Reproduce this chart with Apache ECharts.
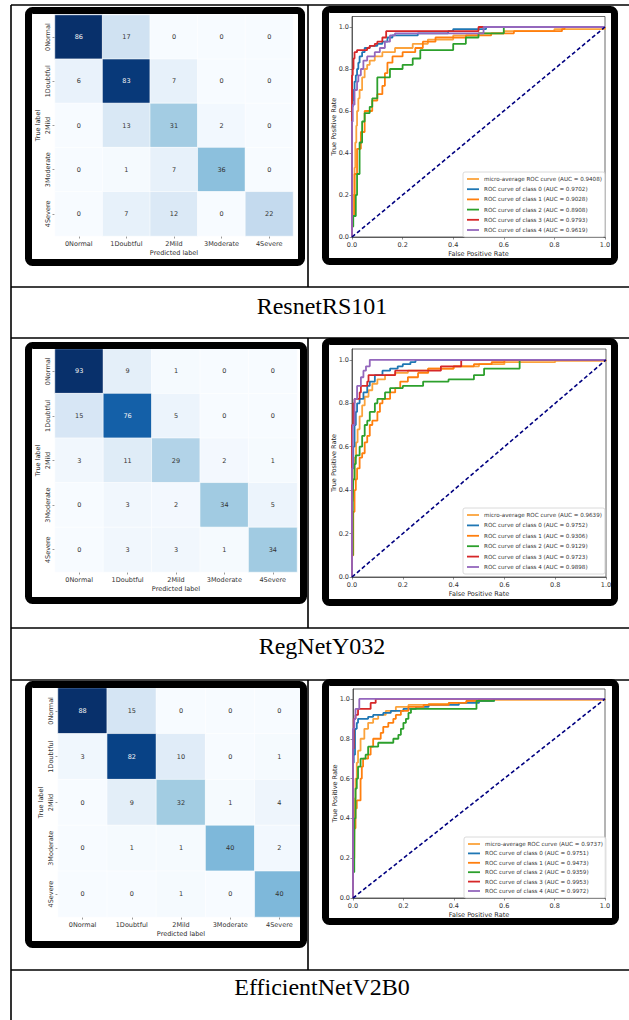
<!DOCTYPE html>
<html><head><meta charset="utf-8">
<script src="https://cdn.jsdelivr.net/npm/echarts@6/dist/echarts.min.js"></script>
<style>html,body{margin:0;padding:0;background:#fff}#c{width:629px;height:1020px}</style>
</head><body><div id="c"></div>
<script>
// ---------- data ----------
const modelNames = ['ResnetRS101', 'RegNetY032', 'EfficientNetV2B0'];
const cmLabels = ['0Normal', '1Doubtful', '2Mild', '3Moderate', '4Severe'];
const cmResnet = [[86,17,0,0,0],[6,83,7,0,0],[0,13,31,2,0],[0,1,7,36,0],[0,7,12,0,22]];
const cmRegnet = [[93,9,1,0,0],[15,76,5,0,0],[3,11,29,2,1],[0,3,2,34,5],[0,3,3,1,34]];
const cmEffnet = [[88,15,0,0,0],[3,82,10,0,1],[0,9,32,1,4],[0,1,1,40,2],[0,0,1,0,40]];
const cmAxisNames = ['Predicted label', 'True label'];
const rocAxisNames = ['False Positive Rate', 'True Positive Rate'];

const rocTicks = [0, 0.2, 0.4, 0.6, 0.8, 1.0];
const diagLine = [[0,0],[1,1]];
const curveNames = ['micro-average ROC curve', 'ROC curve of class 0', 'ROC curve of class 1', 'ROC curve of class 2', 'ROC curve of class 3', 'ROC curve of class 4'];
const aucResnet = ['0.9408','0.9702','0.9028','0.8908','0.9793','0.9619'];
const aucRegnet = ['0.9639','0.9752','0.9306','0.9129','0.9723','0.9898'];
const aucEffnet = ['0.9737','0.9751','0.9473','0.9359','0.9953','0.9972'];

// ResnetRS101 ROC points [fpr, tpr]
const resMicro = [[0,0],[0,0.1],[0.005,0.2],[0.01,0.33],[0.013,0.45],[0.017,0.53],[0.02,0.6],[0.025,0.66],[0.03,0.7],[0.04,0.76],[0.05,0.8],[0.06,0.82],[0.07,0.84],[0.09,0.86],[0.12,0.88],[0.17,0.9],[0.24,0.92],[0.3,0.94],[0.4,0.96],[0.5,0.97],[0.6,0.98],[0.8,0.99],[1,1]];
const resC0 = [[0,0],[0,0.62],[0.003,0.65],[0.006,0.7],[0.01,0.74],[0.015,0.77],[0.02,0.8],[0.025,0.83],[0.03,0.86],[0.04,0.88],[0.05,0.9],[0.07,0.91],[0.1,0.92],[0.12,0.93],[0.14,0.95],[0.16,0.96],[0.26,0.97],[0.38,0.98],[0.4,0.99],[0.53,1],[1,1]];
const resC1 = [[0,0],[0,0.05],[0.003,0.1],[0.01,0.3],[0.02,0.42],[0.035,0.5],[0.05,0.6],[0.08,0.65],[0.1,0.68],[0.12,0.72],[0.13,0.78],[0.14,0.83],[0.16,0.86],[0.2,0.88],[0.25,0.9],[0.28,0.93],[0.33,0.95],[0.45,0.96],[0.55,0.97],[0.64,0.98],[0.83,0.99],[0.84,1],[1,1]];
const resC2 = [[0,0],[0,0.05],[0.005,0.1],[0.015,0.2],[0.02,0.3],[0.03,0.45],[0.04,0.55],[0.05,0.59],[0.07,0.62],[0.08,0.66],[0.1,0.76],[0.14,0.76],[0.15,0.8],[0.2,0.82],[0.24,0.85],[0.27,0.89],[0.37,0.89],[0.4,0.92],[0.45,0.95],[0.5,0.97],[0.6,1],[1,1]];
const resC3 = [[0,0],[0,0.77],[0.003,0.8],[0.006,0.85],[0.01,0.88],[0.02,0.89],[0.06,0.9],[0.07,0.91],[0.09,0.92],[0.1,0.93],[0.12,0.95],[0.135,0.98],[0.5,1],[1,1]];
const resC4 = [[0,0],[0,0.55],[0.003,0.63],[0.01,0.7],[0.02,0.74],[0.025,0.77],[0.035,0.8],[0.045,0.84],[0.06,0.86],[0.09,0.88],[0.11,0.9],[0.13,0.93],[0.15,0.96],[0.17,0.97],[0.52,1],[1,1]];

// RegNetY032 ROC points
const regMicro = [[0,0],[0,0.35],[0.004,0.45],[0.01,0.55],[0.016,0.62],[0.022,0.68],[0.03,0.74],[0.04,0.79],[0.05,0.83],[0.065,0.86],[0.08,0.89],[0.1,0.91],[0.13,0.93],[0.17,0.94],[0.22,0.95],[0.3,0.96],[0.4,0.97],[0.5,0.98],[0.6,0.99],[0.8,0.995],[1,1]];
const regC0 = [[0,0],[0,0.5],[0.005,0.6],[0.01,0.7],[0.015,0.76],[0.02,0.8],[0.03,0.82],[0.045,0.85],[0.06,0.88],[0.07,0.9],[0.09,0.93],[0.12,0.95],[0.15,0.96],[0.18,0.97],[0.2,0.98],[0.23,0.99],[0.25,1],[1,1]];
const regC1 = [[0,0],[0,0.1],[0.005,0.3],[0.01,0.4],[0.015,0.45],[0.02,0.5],[0.03,0.55],[0.04,0.57],[0.05,0.62],[0.06,0.65],[0.07,0.7],[0.08,0.72],[0.1,0.76],[0.11,0.8],[0.12,0.82],[0.15,0.85],[0.17,0.87],[0.19,0.9],[0.22,0.92],[0.26,0.94],[0.3,0.96],[0.4,0.97],[0.48,0.98],[0.55,0.99],[0.6,1],[1,1]];
const regC2 = [[0,0],[0,0.1],[0.003,0.35],[0.005,0.45],[0.01,0.52],[0.015,0.56],[0.03,0.6],[0.04,0.65],[0.05,0.7],[0.06,0.72],[0.07,0.76],[0.09,0.8],[0.1,0.82],[0.13,0.85],[0.15,0.87],[0.2,0.88],[0.28,0.9],[0.38,0.91],[0.48,0.93],[0.52,0.96],[0.66,1],[1,1]];
const regC3 = [[0,0],[0,0.7],[0.005,0.8],[0.01,0.82],[0.03,0.85],[0.035,0.88],[0.06,0.9],[0.065,0.93],[0.17,0.95],[0.35,0.97],[0.43,1],[1,1]];
const regC4 = [[0,0],[0,0.5],[0.003,0.7],[0.01,0.82],[0.02,0.88],[0.035,0.92],[0.045,0.95],[0.055,0.97],[0.07,1],[1,1]];

// EfficientNetV2B0 ROC points
const effMicro = [[0,0],[0,0.15],[0.003,0.35],[0.006,0.5],[0.01,0.6],[0.015,0.68],[0.02,0.74],[0.03,0.8],[0.045,0.85],[0.06,0.88],[0.08,0.9],[0.1,0.92],[0.13,0.94],[0.17,0.96],[0.22,0.97],[0.3,0.975],[0.38,0.98],[0.45,0.99],[0.55,0.995],[1,1]];
const effC0 = [[0,0],[0,0.68],[0.003,0.72],[0.008,0.85],[0.015,0.88],[0.02,0.9],[0.06,0.91],[0.08,0.92],[0.12,0.93],[0.15,0.94],[0.2,0.95],[0.25,0.96],[0.3,0.97],[0.42,0.98],[0.5,0.99],[0.56,1],[1,1]];
const effC1 = [[0,0],[0,0.2],[0.005,0.35],[0.01,0.45],[0.015,0.49],[0.03,0.6],[0.035,0.66],[0.04,0.7],[0.06,0.72],[0.07,0.76],[0.08,0.8],[0.11,0.83],[0.12,0.86],[0.14,0.88],[0.16,0.9],[0.17,0.92],[0.19,0.94],[0.22,0.96],[0.28,0.97],[0.38,0.98],[0.45,0.99],[0.5,1],[1,1]];
const effC2 = [[0,0],[0,0.13],[0.005,0.2],[0.006,0.4],[0.01,0.55],[0.015,0.6],[0.02,0.66],[0.03,0.7],[0.05,0.72],[0.06,0.76],[0.1,0.78],[0.16,0.8],[0.18,0.82],[0.19,0.85],[0.2,0.88],[0.21,0.9],[0.22,0.93],[0.23,0.95],[0.49,0.99],[0.56,1],[1,1]];
const effC3 = [[0,0],[0,0.75],[0.003,0.9],[0.01,0.92],[0.02,0.95],[0.07,0.98],[0.09,1],[1,1]];
const effC4 = [[0,0],[0,0.85],[0.005,0.9],[0.01,0.95],[0.025,1],[1,1]];

// ---------- layout & style ----------
const blues = ['#f7fbff','#deebf7','#c6dbef','#9ecae1','#6baed6','#4292c6','#2171b5','#08519c','#08306b'];
const rocColors = ['#fba33c','#1f77b4','#ff7f0e','#2ca02c','#d62728','#9467bd'];
const FONT = 'DejaVu Sans';
const L = {
  heat: [{l:55,t:15,w:238,h:221},{l:55,t:349,w:242,h:223},{l:58,t:688,w:246,h:229}],
  roc: [{l:352,t:16.5,w:253,h:220.5},{l:352,t:349,w:254,h:228},{l:353,t:689,w:252,h:209}],
  legend: [{x:463,y:172,gap:2.2},{x:463,y:508,gap:2.4},{x:464,y:837,gap:1.4}],
  cmFrame: [[25,7,280,259],[25,342,282,262],[25,681,282,267]],
  rocFrame: [[322,6,296,259],[322,338,296,268],[322,679,297,246]],
  labelY: [306,646,987],
  hLines: [287,338,628,680,970],
  vSegs: [[5,287],[338,628],[680,970]],
  cmNameGap: [17, 17], rocNameGap: [17, 18]
};

const matrices = [cmResnet, cmRegnet, cmEffnet];
const aucs = [aucResnet, aucRegnet, aucEffnet];
const rocSets = [
  [resMicro,resC0,resC1,resC2,resC3,resC4],
  [regMicro,regC0,regC1,regC2,regC3,regC4],
  [effMicro,effC0,effC1,effC2,effC3,effC4]
];

const grid = [], xAxis = [], yAxis = [], series = [], visualMap = [], legend = [], graphics = [];
const txt = () => ({fontSize: 6.5, color: '#333333', fontFamily: FONT});
const nameText = (text, x, y, rot) => ({type: 'text', x, y, rotation: rot ? Math.PI / 2 : 0, z: 10,
  style: {text, fontSize: 6.5, fontFamily: FONT, fill: '#2a2a2a', textAlign: 'center', textVerticalAlign: 'middle'}});

// heatmaps
matrices.forEach((m, i) => {
  const g = L.heat[i];
  grid.push({left: g.l, top: g.t, width: g.w, height: g.h, containLabel: false});
  const gi = grid.length - 1;
  const maxV = Math.max(...m.flat());
  xAxis.push({type: 'category', gridIndex: gi, data: cmLabels, position: 'bottom',
    axisLine: {show: false}, splitLine: {show: false},
    axisTick: {show: true, alignWithLabel: true, length: 2.5, lineStyle: {color: '#555', width: 0.6}},
    axisLabel: Object.assign({margin: 4, interval: 0}, txt())});
  yAxis.push({type: 'category', gridIndex: gi, data: cmLabels, inverse: true,
    axisLine: {show: false}, splitLine: {show: false},
    axisTick: {show: true, alignWithLabel: true, length: 2.5, lineStyle: {color: '#555', width: 0.6}},
    axisLabel: Object.assign({margin: 4, interval: 0, rotate: 90}, txt())});
  graphics.push(nameText(cmAxisNames[0], g.l + g.w / 2, g.t + g.h + L.cmNameGap[0], false));
  graphics.push(nameText(cmAxisNames[1], g.l - L.cmNameGap[1], g.t + g.h / 2, true));
  const data = [];
  m.forEach((row, r) => row.forEach((v, c) => {
    data.push({value: [c, r, v], label: {color: v / maxV > 0.6 ? '#f4f4f4' : '#333'}});
  }));
  series.push({type: 'heatmap', xAxisIndex: gi, yAxisIndex: gi, data,
    itemStyle: {borderColor: '#ffffff', borderWidth: 0.6},
    label: {show: true, fontSize: 6.5, fontFamily: FONT},
    emphasis: {disabled: true}});
  visualMap.push({type: 'continuous', show: false, seriesIndex: series.length - 1, dimension: 2,
    min: 0, max: maxV, inRange: {color: blues}});
});

// ROC charts
rocSets.forEach((curves, i) => {
  const g = L.roc[i];
  grid.push({left: g.l, top: g.t, width: g.w, height: g.h, show: true,
    borderColor: '#444', borderWidth: 0.8, backgroundColor: 'transparent'});
  const gi = grid.length - 1;
  xAxis.push({type: 'value', gridIndex: gi, min: 0, max: 1, interval: 0.2,
    axisLine: {show: true, lineStyle: {color: '#444', width: 0.8}},
    axisTick: {show: true, length: 2.5, lineStyle: {color: '#444', width: 0.6}},
    splitLine: {show: false},
    axisLabel: Object.assign({margin: 4, formatter: v => v.toFixed(1)}, txt())});
  yAxis.push({type: 'value', gridIndex: gi, min: 0, max: 1.05,
    axisLine: {show: true, lineStyle: {color: '#444', width: 0.8}},
    axisTick: {show: true, length: 2.5, customValues: rocTicks, lineStyle: {color: '#444', width: 0.6}},
    splitLine: {show: false},
    axisLabel: Object.assign({margin: 3, customValues: rocTicks, formatter: v => v.toFixed(1)}, txt())});
  graphics.push(nameText(rocAxisNames[0], g.l + g.w / 2, g.t + g.h + L.rocNameGap[0], false));
  graphics.push(nameText(rocAxisNames[1], g.l - L.rocNameGap[1], g.t + g.h / 2, true));
  const names = [];
  curves.forEach((pts, k) => {
    const nm = curveNames[k] + ' (AUC = ' + aucs[i][k] + ')';
    names.push(nm);
    series.push({type: 'line', name: nm, xAxisIndex: gi, yAxisIndex: gi, data: pts, step: 'end',
      showSymbol: false, symbol: 'none', color: rocColors[k],
      lineStyle: {width: 1.8, color: rocColors[k]}, emphasis: {disabled: true}, z: 3 + k * 0.01});
  });
  series.push({type: 'line', xAxisIndex: gi, yAxisIndex: gi, data: diagLine, showSymbol: false,
    symbol: 'none', lineStyle: {width: 1.6, type: [4, 2.5], color: '#000080'}, emphasis: {disabled: true}, z: 4});
  const lg = L.legend[i];
  legend.push({data: names, orient: 'vertical', left: lg.x, top: lg.y, icon: 'rect',
    itemWidth: 12, itemHeight: 1.8, itemGap: lg.gap, selectedMode: false,
    textStyle: {fontSize: 5.6, lineHeight: 8, color: '#333333', fontFamily: FONT},
    backgroundColor: 'rgba(255,255,255,0.85)', borderColor: '#d0d0d0', borderWidth: 0.8,
    borderRadius: 2, padding: [3, 3, 3, 4]});
});

// table, frames, row labels
const line = (x1, y1, x2, y2) => ({type: 'line', shape: {x1, y1, x2, y2}, style: {stroke: '#000', lineWidth: 1.6}, z: 10});
graphics.push(line(11, 5, 629, 5));
graphics.push(line(11, 5, 11, 1020));
L.hLines.forEach(y => graphics.push(line(11, y, 629, y)));
L.vSegs.forEach(s => graphics.push(line(308, s[0], 308, s[1])));
L.cmFrame.concat(L.rocFrame).forEach(f => graphics.push({type: 'rect',
  shape: {x: f[0] + 3.5, y: f[1] + 3.5, width: f[2] - 7, height: f[3] - 7, r: 4},
  style: {fill: 'none', stroke: '#000', lineWidth: 7}, z: 10}));
modelNames.forEach((n, i) => graphics.push({type: 'text', x: 322, y: L.labelY[i], z: 10,
  style: {text: n, fontSize: 24, fontFamily: '"Liberation Serif", "Times New Roman", serif', fill: '#000',
    textAlign: 'center', textVerticalAlign: 'middle'}}));

const chart = echarts.init(document.getElementById('c'), null, {renderer: 'svg'});
chart.setOption({
  animation: false,
  textStyle: {fontFamily: FONT},
  grid, xAxis, yAxis, series, visualMap, legend,
  graphic: {elements: graphics}
});
</script>
</body></html>
